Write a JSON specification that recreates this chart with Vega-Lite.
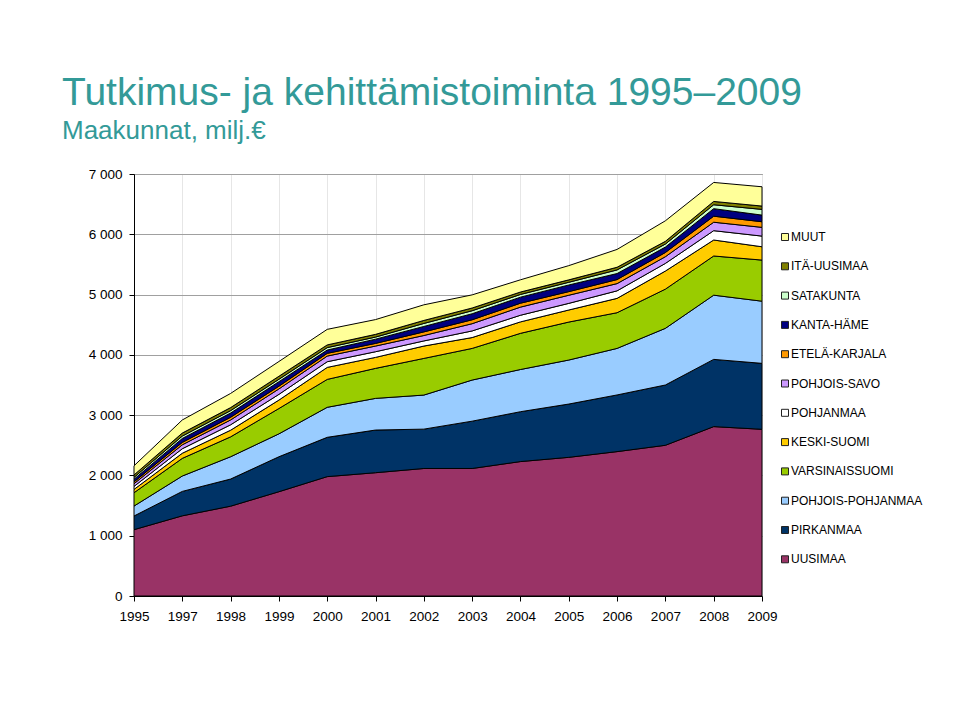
{
  "$schema": "https://vega.github.io/schema/vega-lite/v6.json",
  "autosize": {"type": "none"},
  "width": 628,
  "height": 422,
  "padding": {"left": 134, "top": 174, "right": 198, "bottom": 120},
  "background": "white",
  "config": {
    "font": "Liberation Sans",
    "view": {"stroke": "#555555", "strokeWidth": 1}
  },
  "title": {
    "text": "Tutkimus- ja kehittämistoiminta 1995–2009",
    "subtitle": "Maakunnat, milj.€",
    "anchor": "start",
    "frame": "group",
    "dx": -72,
    "offset": 23,
    "font": "Liberation Sans",
    "fontSize": 39,
    "fontWeight": "normal",
    "color": "#339A98",
    "subtitleFont": "Liberation Sans",
    "subtitleFontSize": 26,
    "subtitleColor": "#339A98",
    "subtitlePadding": 5
  },
  "datasets": {
    "rd": [
      {"year": "1995", "region": "UUSIMAA", "value": 1100},
      {"year": "1995", "region": "PIRKANMAA", "value": 227},
      {"year": "1995", "region": "POHJOIS-POHJANMAA", "value": 165},
      {"year": "1995", "region": "VARSINAISSUOMI", "value": 221},
      {"year": "1995", "region": "KESKI-SUOMI", "value": 55},
      {"year": "1995", "region": "POHJANMAA", "value": 50},
      {"year": "1995", "region": "POHJOIS-SAVO", "value": 45},
      {"year": "1995", "region": "ETELÄ-KARJALA", "value": 30},
      {"year": "1995", "region": "KANTA-HÄME", "value": 45},
      {"year": "1995", "region": "SATAKUNTA", "value": 30},
      {"year": "1995", "region": "ITÄ-UUSIMAA", "value": 40},
      {"year": "1995", "region": "MUUT", "value": 152},
      {"year": "1997", "region": "UUSIMAA", "value": 1330},
      {"year": "1997", "region": "PIRKANMAA", "value": 405},
      {"year": "1997", "region": "POHJOIS-POHJANMAA", "value": 255},
      {"year": "1997", "region": "VARSINAISSUOMI", "value": 293},
      {"year": "1997", "region": "KESKI-SUOMI", "value": 85},
      {"year": "1997", "region": "POHJANMAA", "value": 75},
      {"year": "1997", "region": "POHJOIS-SAVO", "value": 65},
      {"year": "1997", "region": "ETELÄ-KARJALA", "value": 40},
      {"year": "1997", "region": "KANTA-HÄME", "value": 65},
      {"year": "1997", "region": "SATAKUNTA", "value": 40},
      {"year": "1997", "region": "ITÄ-UUSIMAA", "value": 50},
      {"year": "1997", "region": "MUUT", "value": 217},
      {"year": "1998", "region": "UUSIMAA", "value": 1490},
      {"year": "1998", "region": "PIRKANMAA", "value": 450},
      {"year": "1998", "region": "POHJOIS-POHJANMAA", "value": 370},
      {"year": "1998", "region": "VARSINAISSUOMI", "value": 330},
      {"year": "1998", "region": "KESKI-SUOMI", "value": 110},
      {"year": "1998", "region": "POHJANMAA", "value": 90},
      {"year": "1998", "region": "POHJOIS-SAVO", "value": 80},
      {"year": "1998", "region": "ETELÄ-KARJALA", "value": 45},
      {"year": "1998", "region": "KANTA-HÄME", "value": 70},
      {"year": "1998", "region": "SATAKUNTA", "value": 40},
      {"year": "1998", "region": "ITÄ-UUSIMAA", "value": 50},
      {"year": "1998", "region": "MUUT", "value": 235},
      {"year": "1999", "region": "UUSIMAA", "value": 1730},
      {"year": "1999", "region": "PIRKANMAA", "value": 580},
      {"year": "1999", "region": "POHJOIS-POHJANMAA", "value": 380},
      {"year": "1999", "region": "VARSINAISSUOMI", "value": 420},
      {"year": "1999", "region": "KESKI-SUOMI", "value": 140},
      {"year": "1999", "region": "POHJANMAA", "value": 95},
      {"year": "1999", "region": "POHJOIS-SAVO", "value": 90},
      {"year": "1999", "region": "ETELÄ-KARJALA", "value": 45},
      {"year": "1999", "region": "KANTA-HÄME", "value": 75},
      {"year": "1999", "region": "SATAKUNTA", "value": 40},
      {"year": "1999", "region": "ITÄ-UUSIMAA", "value": 50},
      {"year": "1999", "region": "MUUT", "value": 245},
      {"year": "2000", "region": "UUSIMAA", "value": 1980},
      {"year": "2000", "region": "PIRKANMAA", "value": 652},
      {"year": "2000", "region": "POHJOIS-POHJANMAA", "value": 498},
      {"year": "2000", "region": "VARSINAISSUOMI", "value": 463},
      {"year": "2000", "region": "KESKI-SUOMI", "value": 199},
      {"year": "2000", "region": "POHJANMAA", "value": 94},
      {"year": "2000", "region": "POHJOIS-SAVO", "value": 94},
      {"year": "2000", "region": "ETELÄ-KARJALA", "value": 45},
      {"year": "2000", "region": "KANTA-HÄME", "value": 55},
      {"year": "2000", "region": "SATAKUNTA", "value": 40},
      {"year": "2000", "region": "ITÄ-UUSIMAA", "value": 45},
      {"year": "2000", "region": "MUUT", "value": 258},
      {"year": "2001", "region": "UUSIMAA", "value": 2045},
      {"year": "2001", "region": "PIRKANMAA", "value": 708},
      {"year": "2001", "region": "POHJOIS-POHJANMAA", "value": 525},
      {"year": "2001", "region": "VARSINAISSUOMI", "value": 498},
      {"year": "2001", "region": "KESKI-SUOMI", "value": 182},
      {"year": "2001", "region": "POHJANMAA", "value": 94},
      {"year": "2001", "region": "POHJOIS-SAVO", "value": 94},
      {"year": "2001", "region": "ETELÄ-KARJALA", "value": 44},
      {"year": "2001", "region": "KANTA-HÄME", "value": 70},
      {"year": "2001", "region": "SATAKUNTA", "value": 35},
      {"year": "2001", "region": "ITÄ-UUSIMAA", "value": 45},
      {"year": "2001", "region": "MUUT", "value": 245},
      {"year": "2002", "region": "UUSIMAA", "value": 2115},
      {"year": "2002", "region": "PIRKANMAA", "value": 653},
      {"year": "2002", "region": "POHJOIS-POHJANMAA", "value": 565},
      {"year": "2002", "region": "VARSINAISSUOMI", "value": 608},
      {"year": "2002", "region": "KESKI-SUOMI", "value": 205},
      {"year": "2002", "region": "POHJANMAA", "value": 85},
      {"year": "2002", "region": "POHJOIS-SAVO", "value": 90},
      {"year": "2002", "region": "ETELÄ-KARJALA", "value": 60},
      {"year": "2002", "region": "KANTA-HÄME", "value": 90},
      {"year": "2002", "region": "SATAKUNTA", "value": 50},
      {"year": "2002", "region": "ITÄ-UUSIMAA", "value": 50},
      {"year": "2002", "region": "MUUT", "value": 259},
      {"year": "2003", "region": "UUSIMAA", "value": 2115},
      {"year": "2003", "region": "PIRKANMAA", "value": 785},
      {"year": "2003", "region": "POHJOIS-POHJANMAA", "value": 682},
      {"year": "2003", "region": "VARSINAISSUOMI", "value": 525},
      {"year": "2003", "region": "KESKI-SUOMI", "value": 180},
      {"year": "2003", "region": "POHJANMAA", "value": 110},
      {"year": "2003", "region": "POHJOIS-SAVO", "value": 120},
      {"year": "2003", "region": "ETELÄ-KARJALA", "value": 65},
      {"year": "2003", "region": "KANTA-HÄME", "value": 100},
      {"year": "2003", "region": "SATAKUNTA", "value": 50},
      {"year": "2003", "region": "ITÄ-UUSIMAA", "value": 45},
      {"year": "2003", "region": "MUUT", "value": 218},
      {"year": "2004", "region": "UUSIMAA", "value": 2230},
      {"year": "2004", "region": "PIRKANMAA", "value": 827},
      {"year": "2004", "region": "POHJOIS-POHJANMAA", "value": 700},
      {"year": "2004", "region": "VARSINAISSUOMI", "value": 600},
      {"year": "2004", "region": "KESKI-SUOMI", "value": 190},
      {"year": "2004", "region": "POHJANMAA", "value": 110},
      {"year": "2004", "region": "POHJOIS-SAVO", "value": 135},
      {"year": "2004", "region": "ETELÄ-KARJALA", "value": 65},
      {"year": "2004", "region": "KANTA-HÄME", "value": 100},
      {"year": "2004", "region": "SATAKUNTA", "value": 45},
      {"year": "2004", "region": "ITÄ-UUSIMAA", "value": 40},
      {"year": "2004", "region": "MUUT", "value": 203},
      {"year": "2005", "region": "UUSIMAA", "value": 2300},
      {"year": "2005", "region": "PIRKANMAA", "value": 884},
      {"year": "2005", "region": "POHJOIS-POHJANMAA", "value": 730},
      {"year": "2005", "region": "VARSINAISSUOMI", "value": 630},
      {"year": "2005", "region": "KESKI-SUOMI", "value": 200},
      {"year": "2005", "region": "POHJANMAA", "value": 110},
      {"year": "2005", "region": "POHJOIS-SAVO", "value": 135},
      {"year": "2005", "region": "ETELÄ-KARJALA", "value": 60},
      {"year": "2005", "region": "KANTA-HÄME", "value": 110},
      {"year": "2005", "region": "SATAKUNTA", "value": 45},
      {"year": "2005", "region": "ITÄ-UUSIMAA", "value": 40},
      {"year": "2005", "region": "MUUT", "value": 236},
      {"year": "2006", "region": "UUSIMAA", "value": 2395},
      {"year": "2006", "region": "PIRKANMAA", "value": 940},
      {"year": "2006", "region": "POHJOIS-POHJANMAA", "value": 772},
      {"year": "2006", "region": "VARSINAISSUOMI", "value": 592},
      {"year": "2006", "region": "KESKI-SUOMI", "value": 238},
      {"year": "2006", "region": "POHJANMAA", "value": 125},
      {"year": "2006", "region": "POHJOIS-SAVO", "value": 120},
      {"year": "2006", "region": "ETELÄ-KARJALA", "value": 67},
      {"year": "2006", "region": "KANTA-HÄME", "value": 100},
      {"year": "2006", "region": "SATAKUNTA", "value": 60},
      {"year": "2006", "region": "ITÄ-UUSIMAA", "value": 44},
      {"year": "2006", "region": "MUUT", "value": 296},
      {"year": "2007", "region": "UUSIMAA", "value": 2500},
      {"year": "2007", "region": "PIRKANMAA", "value": 1000},
      {"year": "2007", "region": "POHJOIS-POHJANMAA", "value": 940},
      {"year": "2007", "region": "VARSINAISSUOMI", "value": 650},
      {"year": "2007", "region": "KESKI-SUOMI", "value": 300},
      {"year": "2007", "region": "POHJANMAA", "value": 127},
      {"year": "2007", "region": "POHJOIS-SAVO", "value": 111},
      {"year": "2007", "region": "ETELÄ-KARJALA", "value": 70},
      {"year": "2007", "region": "KANTA-HÄME", "value": 90},
      {"year": "2007", "region": "SATAKUNTA", "value": 50},
      {"year": "2007", "region": "ITÄ-UUSIMAA", "value": 45},
      {"year": "2007", "region": "MUUT", "value": 341},
      {"year": "2008", "region": "UUSIMAA", "value": 2810},
      {"year": "2008", "region": "PIRKANMAA", "value": 1115},
      {"year": "2008", "region": "POHJOIS-POHJANMAA", "value": 1065},
      {"year": "2008", "region": "VARSINAISSUOMI", "value": 650},
      {"year": "2008", "region": "KESKI-SUOMI", "value": 265},
      {"year": "2008", "region": "POHJANMAA", "value": 155},
      {"year": "2008", "region": "POHJOIS-SAVO", "value": 140},
      {"year": "2008", "region": "ETELÄ-KARJALA", "value": 100},
      {"year": "2008", "region": "KANTA-HÄME", "value": 125},
      {"year": "2008", "region": "SATAKUNTA", "value": 65},
      {"year": "2008", "region": "ITÄ-UUSIMAA", "value": 55},
      {"year": "2008", "region": "MUUT", "value": 315},
      {"year": "2009", "region": "UUSIMAA", "value": 2765},
      {"year": "2009", "region": "PIRKANMAA", "value": 1094},
      {"year": "2009", "region": "POHJOIS-POHJANMAA", "value": 1031},
      {"year": "2009", "region": "VARSINAISSUOMI", "value": 682},
      {"year": "2009", "region": "KESKI-SUOMI", "value": 221},
      {"year": "2009", "region": "POHJANMAA", "value": 177},
      {"year": "2009", "region": "POHJOIS-SAVO", "value": 145},
      {"year": "2009", "region": "ETELÄ-KARJALA", "value": 93},
      {"year": "2009", "region": "KANTA-HÄME", "value": 110},
      {"year": "2009", "region": "SATAKUNTA", "value": 95},
      {"year": "2009", "region": "ITÄ-UUSIMAA", "value": 55},
      {"year": "2009", "region": "MUUT", "value": 320}
    ],
    "regions": [
      {"region": "UUSIMAA", "rank": 1},
      {"region": "PIRKANMAA", "rank": 2},
      {"region": "POHJOIS-POHJANMAA", "rank": 3},
      {"region": "VARSINAISSUOMI", "rank": 4},
      {"region": "KESKI-SUOMI", "rank": 5},
      {"region": "POHJANMAA", "rank": 6},
      {"region": "POHJOIS-SAVO", "rank": 7},
      {"region": "ETELÄ-KARJALA", "rank": 8},
      {"region": "KANTA-HÄME", "rank": 9},
      {"region": "SATAKUNTA", "rank": 10},
      {"region": "ITÄ-UUSIMAA", "rank": 11},
      {"region": "MUUT", "rank": 12}
    ]
  },
  "data": {"name": "rd"},
  "transform": [
    {"lookup": "region", "from": {"data": {"name": "regions"}, "key": "region", "fields": ["rank"]}}
  ],
  "mark": {"type": "area", "stroke": "black", "strokeWidth": 1, "opacity": 1, "fillOpacity": 1},
  "encoding": {
    "x": {
      "field": "year",
      "type": "ordinal",
      "scale": {"type": "point", "padding": 0},
      "axis": {
        "title": null,
        "labelAngle": 0,
        "labelFontSize": 13.5,
        "labelColor": "black",
        "labelPadding": 8,
        "tickSize": 5,
        "tickColor": "black",
        "domainColor": "black",
        "grid": true,
        "gridColor": "#e6e6e6"
      }
    },
    "y": {
      "field": "value",
      "type": "quantitative",
      "stack": "zero",
      "scale": {"domain": [0, 7000], "nice": false},
      "axis": {
        "title": null,
        "values": [0, 1000, 2000, 3000, 4000, 5000, 6000, 7000],
        "labelExpr": "replace(format(datum.value, ','), ',', ' ')",
        "labelFontSize": 13.5,
        "labelColor": "black",
        "labelPadding": 7,
        "tickSize": 5,
        "tickColor": "black",
        "domainColor": "black",
        "gridColor": "#a0a0a0"
      }
    },
    "order": {"field": "rank", "type": "quantitative", "sort": "ascending"},
    "color": {
      "field": "region",
      "type": "nominal",
      "scale": {
        "domain": ["MUUT", "ITÄ-UUSIMAA", "SATAKUNTA", "KANTA-HÄME", "ETELÄ-KARJALA", "POHJOIS-SAVO", "POHJANMAA", "KESKI-SUOMI", "VARSINAISSUOMI", "POHJOIS-POHJANMAA", "PIRKANMAA", "UUSIMAA"],
        "range": ["#FFFF99", "#808000", "#CCFFCC", "#000080", "#FF9900", "#CC99FF", "#FFFFFF", "#FFCC00", "#99CC00", "#99CCFF", "#003366", "#993366"]
      },
      "legend": {
        "title": null,
        "orient": "none",
        "legendX": 645,
        "legendY": 57,
        "symbolType": "square",
        "symbolSize": 49,
        "symbolStrokeColor": "#222222",
        "symbolStrokeWidth": 1,
        "labelFontSize": 12,
        "labelColor": "black",
        "labelOffset": 0,
        "rowPadding": 17.3
      }
    }
  }
}
